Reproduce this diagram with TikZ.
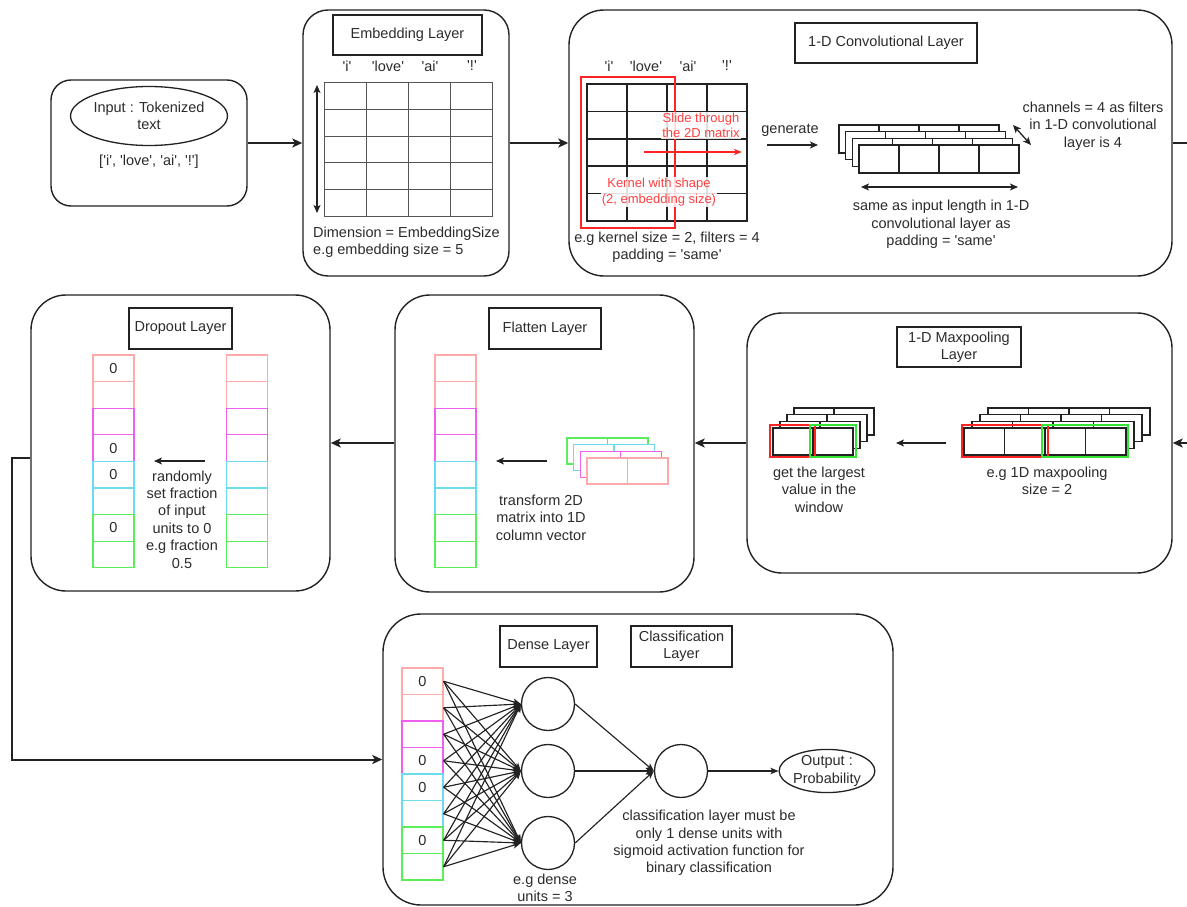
\documentclass[tikz,border=0pt]{standalone}
\usepackage{fontspec}
\setmainfont{Liberation Sans}[Ligatures=TeXOff]
\usetikzlibrary{arrows.meta,calc,shapes.geometric}
\definecolor{ink}{HTML}{222222}
\definecolor{txtc}{HTML}{2B2B2B}
\definecolor{kred}{HTML}{FF2424}
\definecolor{kredtxt}{HTML}{FF4040}
\definecolor{kgreen}{HTML}{33E633}
\definecolor{cpink}{HTML}{FFAAAA}
\definecolor{cmag}{HTML}{F060F0}
\definecolor{ccyan}{HTML}{6ADCEE}
\definecolor{cgreen}{HTML}{5AEE5A}
\definecolor{gridc}{HTML}{555555}

\begin{document}
\begin{tikzpicture}[x=1pt,y=-1pt,
  font=\fontsize{14.5}{17.4}\selectfont,
  every node/.style={text=txtc},
  layerbox/.style={draw=ink, line width=1.4pt, rounded corners=#1, inner sep=0pt},
  titlebox/.style={draw=ink, line width=1.4pt, inner sep=0pt, align=center},
  conn/.style={draw=ink, line width=2pt, -{Stealth[length=10pt,width=9pt,inset=2.5pt]}},
  inarrow/.style={draw=ink, line width=1.3pt, -{Stealth[length=8pt,width=7pt,inset=2pt]}},
  dualarrow/.style={draw=ink, line width=1.3pt, {Stealth[length=8pt,width=7pt,inset=2pt]}-{Stealth[length=8pt,width=7pt,inset=2pt]}},
  thinarrow/.style={draw=ink, line width=1.15pt, -{Stealth[length=8pt,width=6.5pt,inset=2pt]}},
  cell/.style={draw=#1, line width=1.3pt, minimum width=41pt, minimum height=26.6pt, inner sep=0pt},
  stackcell/.style={draw=#1, line width=1.3pt, fill=white},
  txt/.style={align=center, inner sep=0pt},
  redlbl/.style={align=center, text=kredtxt, fill=white, fill opacity=0.85, text opacity=1, inner sep=1pt, font=\fontsize{13}{15.5}\selectfont},
  unit/.style={draw=ink, line width=1.3pt, circle, minimum size=53pt, inner sep=0pt},
]
\useasboundingbox (0,0) rectangle (1187,907);
\clip (0,0) rectangle (1187,907);

% ---------- input ----------
\node[layerbox=20pt, minimum width=196pt, minimum height=126pt] (inbox) at (149,143) {};
\node[draw=ink, line width=1.3pt, ellipse, minimum width=134pt, minimum height=59pt, inner sep=0pt, align=center] (inell) at (149,116) {Input : Tokenized\\text};
\node[txt] (intok) at (149,162) {['i', 'love', 'ai', '!']};

% ---------- embedding layer ----------
\node[layerbox=25pt, minimum width=206pt, minimum height=266pt] (embbox) at (406,143) {};
\node[titlebox, minimum width=149pt, minimum height=40pt] (embtitle) at (407.5,35) {Embedding Layer};
\node[txt] (ew1) at (347,66) {'i'};
\node[txt] (ew2) at (388,66) {'love'};
\node[txt] (ew3) at (430,66) {'ai'};
\node[txt] (ew4) at (472,66) {'!'};
\draw[gridc, line width=1pt] (324,83) rectangle (492,216);
\foreach \i in {1,2,3} \draw[gridc, line width=1pt] (324+42*\i,83) -- (324+42*\i,216);
\foreach \j in {1,...,4} \draw[gridc, line width=1pt] (324,83+26.6*\j) -- (492,83+26.6*\j);
\draw[dualarrow] (317,85) -- (317,213);
\node[txt, align=left, anchor=west] (embnote) at (313,242) {Dimension = EmbeddingSize\\e.g embedding size = 5};

% ---------- 1-D convolutional layer ----------
\node[layerbox=35pt, minimum width=603pt, minimum height=266pt] (convbox) at (870.5,143) {};
\node[titlebox, minimum width=182pt, minimum height=40pt] (convtitle) at (886,43) {1-D Convolutional Layer};
\node[txt] (cw1) at (609,66) {'i'};
\node[txt] (cw2) at (646,66) {'love'};
\node[txt] (cw3) at (688,66) {'ai'};
\node[txt] (cw4) at (727,66) {'!'};
\draw[ink, line width=1.5pt] (587,84) rectangle (747,221);
\foreach \i in {1,2,3} \draw[ink, line width=1.5pt] (587+40*\i,84) -- (587+40*\i,221);
\foreach \j in {1,...,4} \draw[ink, line width=1.5pt] (587,84+27.4*\j) -- (747,84+27.4*\j);
\draw[kred, line width=2pt] (581,77) rectangle (675,228);
\node[redlbl] (slide) at (701,125.5) {Slide through\\the 2D matrix};
\draw[kred, line width=1.3pt, -{Stealth[length=8pt,width=6pt,inset=2pt]}] (644,152) -- (742,152);
\node[redlbl] (kernel) at (659,192) {Kernel with shape\\(2, embedding size)};
\node[txt] (convnote) at (667,247) {e.g kernel size = 2, filters = 4\\padding = 'same'};
\node[txt] (gen) at (790,130) {generate};
\draw[inarrow] (767,145) -- (818,145);
% feature maps: 4 channels of 4 steps
\foreach \k in {3,2,1,0}
  \foreach \c in {0,...,3}
    \draw[stackcell=ink] ({859-6.7*\k+40*\c},{145-6.7*\k}) rectangle ++(40,28);
\draw[dualarrow] (1013,125) -- (1031,145);
\node[txt] (chan) at (1093,126) {channels = 4 as filters\\in 1-D convolutional\\layer is 4};
\draw[dualarrow] (861,187) -- (1018,187);
\node[txt] (same) at (941,224.5) {same as input length in 1-D\\convolutional layer as\\padding = 'same'};

% ---------- 1-D maxpooling layer ----------
\node[layerbox=35pt, minimum width=425pt, minimum height=260pt] (poolbox) at (959.5,443) {};
\node[titlebox, minimum width=124pt, minimum height=40pt] (pooltitle) at (959,347) {1-D Maxpooling\\Layer};
\foreach \k in {3,2,1,0}
  \foreach \c in {0,...,3}
    \draw[stackcell=ink] ({964+8*\k+40.5*\c},{428-6.7*\k}) rectangle ++(40.5,27);
\draw[kred, line width=2pt] (962,425) rectangle (1048,457);
\draw[kgreen, line width=2pt] (1042,425) rectangle (1128,457);
\node[txt] (poolnote) at (1047,481) {e.g 1D maxpooling\\size = 2};
\draw[inarrow] (946,443) -- (896,443);
\foreach \k in {3,2,1,0}
  \foreach \c in {0,1}
    \draw[stackcell=ink] ({773+7*\k+40*\c},{428-6.7*\k}) rectangle ++(40,27);
\draw[kred, line width=2pt] (770,425) rectangle (815,457);
\draw[kgreen, line width=2pt] (810,425) rectangle (856,457);
\node[txt] (largest) at (819,489.5) {get the largest\\value in the\\window};

% ---------- flatten layer ----------
\node[layerbox=35pt, minimum width=299pt, minimum height=297pt] (flatbox) at (544.5,443.5) {};
\node[titlebox, minimum width=112pt, minimum height=41pt] (flattitle) at (545,328.5) {Flatten Layer};
\foreach \i/\c in {0/cpink,1/cpink,2/cmag,3/cmag,4/ccyan,5/ccyan,6/cgreen,7/cgreen}
  \node[cell=\c] (fl\i) at (455.5,{355+26.6*(\i+0.5)}) {};
\foreach \k/\c in {3/cgreen,2/ccyan,1/cmag,0/cpink}
  \foreach \n in {0,1}
    \draw[stackcell=\c] ({587-6.7*\k+40.5*\n},{458-6.7*\k}) rectangle ++(40.5,26);
\draw[inarrow] (547,461) -- (496,461);
\node[txt] (flatnote) at (541,517.5) {transform 2D\\matrix into 1D\\column vector};

% ---------- dropout layer ----------
\node[layerbox=35pt, minimum width=299pt, minimum height=296pt] (dropbox) at (180.5,443) {};
\node[titlebox, minimum width=103pt, minimum height=41pt] (droptitle) at (180.5,328.5) {Dropout Layer};
\foreach \i/\c/\z in {0/cpink/0,1/cpink/{},2/cmag/{},3/cmag/0,4/ccyan/0,5/ccyan/{},6/cgreen/0,7/cgreen/{}}
  \node[cell=\c] (dl\i) at (113.5,{355+26.6*(\i+0.5)}) {\z};
\foreach \i/\c in {0/cpink,1/cpink,2/cmag,3/cmag,4/ccyan,5/ccyan,6/cgreen,7/cgreen}
  \node[cell=\c] (dr\i) at (247,{355+26.6*(\i+0.5)}) {};
\draw[inarrow] (205,461) -- (154,461);
\node[txt] (dropnote) at (182,519.5) {randomly\\set fraction\\of input\\units to 0\\e.g fraction\\0.5};

% ---------- dense + classification layer ----------
\node[layerbox=38pt, minimum width=510pt, minimum height=291pt] (densebox) at (638,759.5) {};
\node[titlebox, minimum width=97pt, minimum height=41pt] (densetitle) at (548.5,646.5) {Dense Layer};
\node[titlebox, minimum width=101pt, minimum height=41pt] (clstitle) at (681.5,646.5) {Classification\\Layer};
\foreach \i/\c/\z in {0/cpink/0,1/cpink/{},2/cmag/{},3/cmag/0,4/ccyan/0,5/ccyan/{},6/cgreen/0,7/cgreen/{}}
  \node[cell=\c, minimum height=26.5pt] (dn\i) at (422.5,{668+26.5*(\i+0.5)}) {\z};
\node[unit] (h1) at (548,704) {};
\node[unit] (h2) at (548,771) {};
\node[unit] (h3) at (548,843) {};
\node[unit] (cls) at (681,771) {};
\node[draw=ink, line width=1.3pt, ellipse, minimum width=84pt, minimum height=42pt, inner sep=0pt, align=center] (out) at (827,771) {Output :\\Probability};
\foreach \i in {0,...,7}
  \foreach \j in {1,2,3}
    \draw[thinarrow] (dn\i.east) -- (h\j.west);
\foreach \j in {1,2,3}
  \draw[thinarrow] (h\j.east) -- (cls.west);
\draw[thinarrow] (cls.east) -- (out.west);
\node[txt] (clsnote) at (709,843) {classification layer must be\\only 1 dense units with\\sigmoid activation function for\\binary classification};
\node[txt] (densenote) at (545,888) {e.g dense\\units = 3};

% ---------- connectors between layers ----------
\draw[conn] (inbox.east) -- (embbox.west);
\draw[conn] (embbox.east) -- (convbox.west);
\coordinate (turnA) at (1200,143);
\coordinate (turnB) at (1200,443);
\draw[conn] (convbox.east) -- (turnA) -- (turnB) -- (poolbox.east);
\draw[conn] (poolbox.west) -- (flatbox.east |- poolbox.west);
\draw[conn] (flatbox.west |- poolbox.west) -- (dropbox.east);
\coordinate (dropout) at ($(dropbox.west)+(0,15)$);
\coordinate (turnC) at (12,458);
\draw[conn] (dropout) -- (turnC) |- (densebox.west);
\end{tikzpicture}
\end{document}
